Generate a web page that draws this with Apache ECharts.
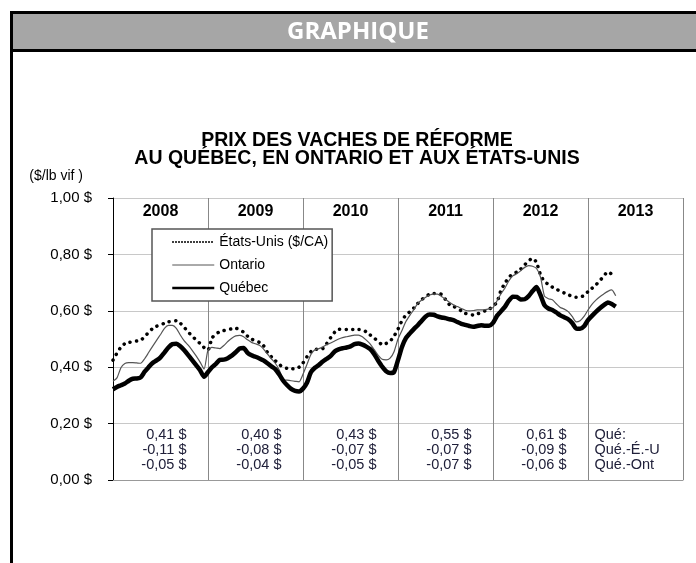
<!DOCTYPE html>
<html>
<head>
<meta charset="utf-8">
<script src="https://cdn.jsdelivr.net/npm/echarts@6/dist/echarts.min.js"></script>
<style>
html, body { margin: 0; padding: 0; background: #fff; }
#chart { width: 696px; height: 563px; }
</style>
</head>
<body>
<div id="chart"></div>
<script>
// prix aux deux semaines environ, $/lb vif, de janvier 2008 a avril 2013
var years = ['2008', '2009', '2010', '2011', '2012', '2013']
var quebec = [
  0.322, 0.330, 0.336, 0.342, 0.352, 0.359, 0.360, 0.364, 0.384, 0.400, 0.415, 0.424,
  0.435, 0.452, 0.470, 0.482, 0.483, 0.474, 0.460, 0.443, 0.425, 0.407, 0.389, 0.366,
  0.383, 0.400, 0.412, 0.426, 0.427, 0.432, 0.441, 0.453, 0.466, 0.468, 0.451, 0.442,
  0.437, 0.431, 0.424, 0.414, 0.403, 0.393, 0.374, 0.352, 0.336, 0.323, 0.316, 0.314,
  0.324, 0.345, 0.382, 0.398, 0.408, 0.420, 0.430, 0.440, 0.456, 0.463, 0.467, 0.470,
  0.474, 0.482, 0.484, 0.480, 0.473, 0.464, 0.446, 0.423, 0.402, 0.386, 0.379, 0.383,
  0.425, 0.472, 0.503, 0.520, 0.535, 0.549, 0.565, 0.580, 0.587, 0.586, 0.580, 0.576,
  0.574, 0.570, 0.567, 0.560, 0.554, 0.550, 0.546, 0.543, 0.546, 0.549, 0.547, 0.547,
  0.557, 0.582, 0.598, 0.614, 0.636, 0.650, 0.649, 0.640, 0.641, 0.652, 0.670, 0.684,
  0.656, 0.620, 0.608, 0.603, 0.594, 0.584, 0.577, 0.570, 0.557, 0.537, 0.536, 0.545,
  0.567, 0.582, 0.596, 0.609, 0.620, 0.629, 0.624, 0.615
]
var ontario = [
  0.350, 0.362, 0.398, 0.413, 0.416, 0.416, 0.415, 0.414, 0.430, 0.452, 0.474, 0.495,
  0.516, 0.538, 0.548, 0.548, 0.538, 0.514, 0.493, 0.478, 0.460, 0.440, 0.418, 0.393,
  0.461, 0.470, 0.468, 0.466, 0.477, 0.491, 0.503, 0.511, 0.513, 0.508, 0.497, 0.488,
  0.483, 0.478, 0.465, 0.447, 0.430, 0.414, 0.390, 0.356, 0.354, 0.352, 0.350, 0.348,
  0.375, 0.410, 0.445, 0.462, 0.466, 0.472, 0.480, 0.486, 0.493, 0.500, 0.505, 0.508,
  0.511, 0.514, 0.514, 0.508, 0.496, 0.482, 0.462, 0.442, 0.428, 0.426, 0.432, 0.455,
  0.500, 0.530, 0.562, 0.584, 0.604, 0.626, 0.638, 0.648, 0.656, 0.659, 0.659, 0.651,
  0.641, 0.630, 0.621, 0.615, 0.608, 0.602, 0.600, 0.601, 0.603, 0.603, 0.604, 0.607,
  0.611, 0.635, 0.660, 0.680, 0.706, 0.724, 0.731, 0.742, 0.754, 0.760, 0.758, 0.750,
  0.720, 0.652, 0.643, 0.639, 0.625, 0.612, 0.606, 0.597, 0.580, 0.561, 0.565, 0.580,
  0.603, 0.623, 0.638, 0.650, 0.660, 0.669, 0.674, 0.653
]
var etatsUnis = [
  0.425, 0.450, 0.471, 0.484, 0.488, 0.490, 0.493, 0.496, 0.508, 0.524, 0.537, 0.545,
  0.550, 0.556, 0.561, 0.563, 0.565, 0.556, 0.541, 0.525, 0.510, 0.497, 0.484, 0.470,
  0.461, 0.503, 0.518, 0.526, 0.530, 0.533, 0.536, 0.538, 0.534, 0.524, 0.510, 0.500,
  0.493, 0.488, 0.477, 0.453, 0.437, 0.423, 0.410, 0.399, 0.396, 0.395, 0.394, 0.400,
  0.415, 0.437, 0.455, 0.464, 0.464, 0.466, 0.484, 0.505, 0.524, 0.534, 0.535, 0.534,
  0.534, 0.534, 0.534, 0.533, 0.525, 0.514, 0.503, 0.492, 0.480, 0.484, 0.492, 0.510,
  0.535, 0.565, 0.585, 0.597, 0.610, 0.626, 0.640, 0.650, 0.659, 0.661, 0.661, 0.658,
  0.640, 0.622, 0.616, 0.608, 0.600, 0.591, 0.588, 0.585, 0.589, 0.593, 0.600, 0.605,
  0.617, 0.630, 0.672, 0.698, 0.718, 0.732, 0.737, 0.748, 0.763, 0.777, 0.787, 0.771,
  0.728, 0.703, 0.694, 0.684, 0.677, 0.669, 0.663, 0.657, 0.651, 0.648, 0.650, 0.653,
  0.668, 0.680, 0.692, 0.707, 0.723, 0.739, 0.730, 0.727
]
// moyenne annuelle du Quebec et ecarts
var moyQue = [0.41, 0.40, 0.43, 0.55, 0.61]
var ecartUs = [-0.11, -0.08, -0.07, -0.07, -0.09]
var ecartOnt = [-0.05, -0.04, -0.05, -0.07, -0.06]
var ecartNoms = ['Qué:', 'Qué.-É.-U', 'Qué.-Ont']

var font = 'Liberation Sans, Arial, sans-serif'

function dollars (v) {
  return v.toFixed(2).replace('.', ',') + ' $'
}
// un point tous les demi-mois, x en mois depuis janvier 2008
function toPoints (arr) {
  return arr.map(function (v, i) { return [i / 2, v] })
}

var chart = echarts.init(document.getElementById('chart'))
var option = {
  animation: false,
  graphic: [
    { type: 'rect', shape: { x: 10, y: 11, width: 686, height: 41 }, style: { fill: '#000' }, silent: true },
    { type: 'rect', shape: { x: 13, y: 14, width: 683, height: 35 }, style: { fill: '#a6a6a6' }, silent: true },
    { type: 'rect', shape: { x: 10, y: 11, width: 3, height: 552 }, style: { fill: '#000' }, silent: true },
    {
      type: 'text', x: 358, y: 32, silent: true,
      style: { text: 'GRAPHIQUE', fill: '#fff', font: 'bold 24px "Open Sans", sans-serif', textAlign: 'center', textVerticalAlign: 'middle' }
    },
    {
      type: 'text', x: 357, y: 150, silent: true,
      style: {
        text: 'PRIX DES VACHES DE RÉFORME\nAU QUÉBEC, EN ONTARIO ET AUX ÉTATS-UNIS',
        fill: '#000', font: 'bold 19.5px ' + font, lineHeight: 18,
        textAlign: 'center', textVerticalAlign: 'middle'
      }
    }
  ],
  grid: { left: 113, right: 13, top: 198, bottom: 83 },
  legend: {
    orient: 'vertical',
    left: 152,
    top: 229,
    padding: [6, 4, 6, 19],
    itemWidth: 42,
    itemHeight: 14,
    itemGap: 9,
    backgroundColor: '#fff',
    borderColor: '#555',
    borderWidth: 1.5,
    selectedMode: false,
    textStyle: { fontFamily: font, fontSize: 14, color: '#000' },
    data: [
      { name: 'États-Unis ($/CA)', itemStyle: { opacity: 0 }, lineStyle: { width: 2, type: [1.5, 1.5], cap: 'butt' } },
      { name: 'Ontario', itemStyle: { opacity: 0 }, lineStyle: { width: 1 } },
      { name: 'Québec', itemStyle: { opacity: 0 }, lineStyle: { width: 2.5 } }
    ]
  },
  xAxis: [
    {
      type: 'value',
      min: 0,
      max: 72,
      interval: 12,
      axisLine: { show: true, lineStyle: { color: '#999' } },
      axisTick: { show: false },
      axisLabel: { show: false },
      splitLine: { show: true, lineStyle: { color: '#888', width: 1 } }
    },
    {
      type: 'category',
      position: 'top',
      data: years,
      boundaryGap: true,
      axisLine: { show: false },
      axisTick: { show: false },
      splitLine: { show: false },
      axisLabel: {
        inside: true,
        margin: 6,
        interval: 0,
        fontFamily: font,
        fontSize: 16,
        fontWeight: 'bold',
        color: '#000'
      }
    },
    {
      type: 'category',
      position: 'bottom',
      data: years,
      boundaryGap: true,
      axisLine: { show: false },
      axisTick: { show: false },
      splitLine: { show: false },
      axisLabel: {
        inside: true,
        margin: 8,
        interval: 0,
        formatter: function (value, index) {
          if (index >= moyQue.length) {
            return ecartNoms.map(function (t) { return '{l|' + t + '}' }).join('\n')
          }
          return '{r|' + dollars(moyQue[index]) + '}\n{r|' + dollars(ecartUs[index]) + '}\n{r|' + dollars(ecartOnt[index]) + '}'
        },
        rich: {
          r: { width: 52, align: 'right', lineHeight: 15, fontFamily: font, fontSize: 14.5, color: '#20203a' },
          l: { width: 82, align: 'left', lineHeight: 15, fontFamily: font, fontSize: 14.5, color: '#20203a' }
        }
      }
    }
  ],
  yAxis: {
    type: 'value',
    min: 0,
    max: 1,
    interval: 0.2,
    name: '($/lb vif )',
    nameLocation: 'end',
    nameGap: 15,
    nameTextStyle: { fontFamily: font, fontSize: 14, color: '#000', align: 'right', padding: [0, 30, 0, 0] },
    axisLine: { show: true, lineStyle: { color: '#000', width: 1 } },
    axisTick: { show: true, length: 5, lineStyle: { color: '#000' } },
    axisLabel: {
      margin: 21,
      fontFamily: font,
      fontSize: 15,
      color: '#000',
      formatter: function (v) { return dollars(v) }
    },
    splitLine: { show: true, lineStyle: { color: '#c8c8c8', width: 1 } }
  },
  series: [
    {
      name: 'États-Unis ($/CA)',
      type: 'line',
      xAxisIndex: 0,
      data: toPoints(etatsUnis),
      symbol: 'none',
      smooth: 0.2,
      lineStyle: { color: '#000', width: 3.5, type: [0.1, 6.4], cap: 'round' },
      itemStyle: { color: '#000' }
    },
    {
      name: 'Ontario',
      type: 'line',
      xAxisIndex: 0,
      data: toPoints(ontario),
      symbol: 'none',
      smooth: 0.2,
      lineStyle: { color: '#555', width: 1.2 },
      itemStyle: { color: '#555' }
    },
    {
      name: 'Québec',
      type: 'line',
      xAxisIndex: 0,
      data: toPoints(quebec),
      symbol: 'none',
      smooth: 0.2,
      lineStyle: { color: '#000', width: 4.5 },
      itemStyle: { color: '#000' }
    }
  ]
}
chart.setOption(option)
</script>
</body>
</html>
